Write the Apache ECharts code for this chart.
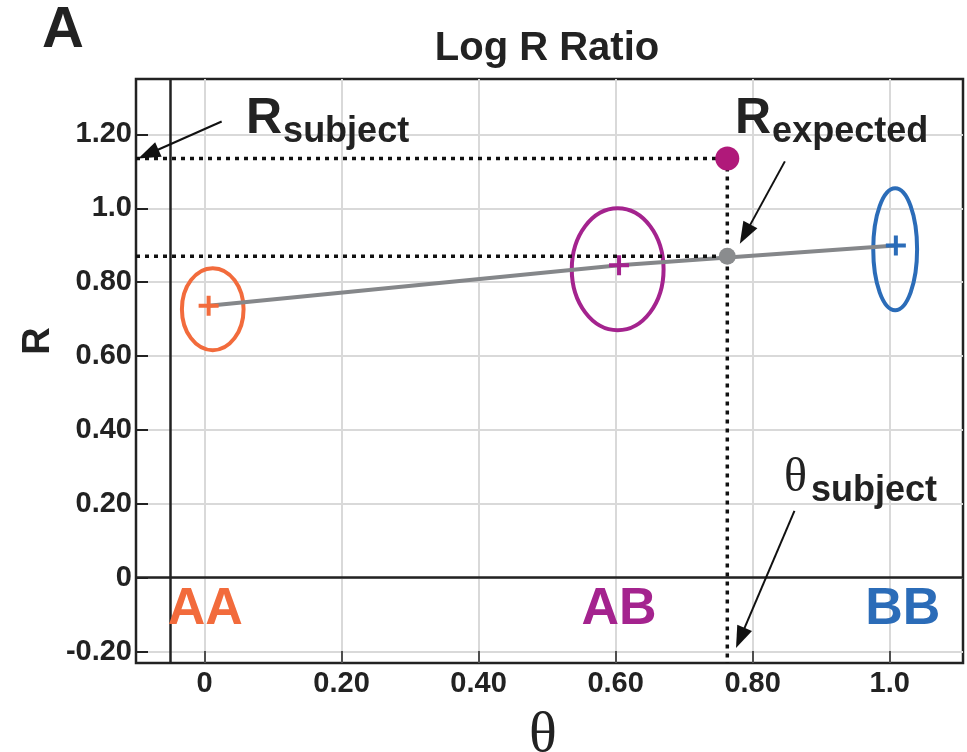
<!DOCTYPE html>
<html>
<head>
<meta charset="utf-8">
<script src="https://cdn.jsdelivr.net/npm/echarts@6/dist/echarts.min.js"></script>
<style>
    html, body {margin: 0; padding: 0; background: #fff;}
    #chart {width: 967px; height: 752px;}
</style>
</head>
<body>
<div id="chart"></div>
<script>
// axis ticks and their labels
var xTicks = [0, 0.2, 0.4, 0.6, 0.8, 1.0];
var xTickLabels = ['0', '0.20', '0.40', '0.60', '0.80', '1.0'];
var yTicks = [-0.2, 0, 0.2, 0.4, 0.6, 0.8, 1.0, 1.2];
var yTickLabels = ['-0.20', '0', '0.20', '0.40', '0.60', '0.80', '1.0', '1.20'];

// genotype clusters (ellipse centre + half sizes in data units)
var clusterNames = ['AA', 'AB', 'BB'];
var clusterTheta = [0.012, 0.603, 1.008];
var clusterR = [0.727, 0.835, 0.889];
var clusterHalfTheta = [0.045, 0.067, 0.032];
var clusterHalfR = [0.111, 0.165, 0.165];
// cluster means (+)
var meanTheta = [0.006, 0.605, 1.009];
var meanR = [0.736, 0.846, 0.899];
// genotype label positions
var labelTheta = [0.001, 0.605, 1.019];
var labelR = [-0.087, -0.087, -0.087];
var clusterColors = ['#f26b3c', '#a4238e', '#2b6cb8'];

// subject sample
var subjectTheta = 0.763;
var subjectR = 1.135;
var expectedR = 0.870;

// annotation arrows [theta, R] start -> end
var arrowFrom = [[0.025, 1.235], [0.847, 1.127], [0.861, 0.181]];
var arrowTo = [[-0.082, 1.147], [0.789, 0.930], [0.782, -0.163]];

var xMin = -0.1, xMax = 1.107, yMin = -0.231, yMax = 1.35;
var axisTheta = -0.046;

function pickLabel(ticks, labels, v) {
    for (var i = 0; i < ticks.length; i++) {
        if (Math.abs(ticks[i] - v) < 1e-6) return labels[i];
    }
    return '';
}

var dotStyle = {color: '#111', width: 3.5, type: [4, 5], cap: 'butt'};
var font = 'Liberation Sans, Arial, Helvetica, sans-serif';

var chart = echarts.init(document.getElementById('chart'));
chart.setOption({
    animation: false,
    backgroundColor: '#fff',
    grid: {left: 136, right: 4, top: 79, bottom: 89, show: true, borderColor: '#222', borderWidth: 2.5, containLabel: false},
    xAxis: {
        type: 'value', min: xMin, max: xMax,
        axisLine: {show: false, onZero: false},
        axisTick: {show: true, inside: true, length: 12, customValues: xTicks, lineStyle: {color: '#222', width: 1.5}},
        axisLabel: {customValues: xTicks, margin: 6, color: '#222', fontSize: 29, fontWeight: 'bold', fontFamily: font,
            formatter: function (v) { return pickLabel(xTicks, xTickLabels, v); }},
        splitLine: {show: true, lineStyle: {color: '#d9d9d9', width: 2}}
    },
    yAxis: {
        type: 'value', min: yMin, max: yMax,
        axisLine: {show: false, onZero: false},
        axisTick: {show: true, inside: true, length: 12, customValues: yTicks, lineStyle: {color: '#222', width: 2}},
        axisLabel: {customValues: yTicks, margin: 4, color: '#222', fontSize: 29, fontWeight: 'bold', fontFamily: font,
            formatter: function (v) { return pickLabel(yTicks, yTickLabels, v); }},
        splitLine: {show: true, lineStyle: {color: '#d9d9d9', width: 2}}
    },
    graphic: [
        {type: 'text', x: 42, y: 60, style: {text: 'A', font: 'bold 58px ' + font, fill: '#222', textVerticalAlign: 'bottom'}, z: 10},
        {type: 'text', x: 547, y: 49, style: {text: 'Log R Ratio', font: 'bold 40px ' + font, fill: '#222', textAlign: 'center', textVerticalAlign: 'middle'}, z: 10},
        {type: 'text', x: 39, y: 341, rotation: Math.PI / 2, style: {text: 'R', font: 'bold 38px ' + font, fill: '#222', textAlign: 'center', textVerticalAlign: 'middle'}, z: 10},
        {type: 'text', x: 543, y: 736, style: {text: 'θ', font: '58px Liberation Serif, Times New Roman, serif', fill: '#222', textAlign: 'center', textVerticalAlign: 'middle'}, z: 10},
        {type: 'text', x: 246, y: 150, z: 10, style: {
            text: '{a|R}{b|subject}', textVerticalAlign: 'bottom', fill: '#222',
            rich: {
                a: {fontSize: 50, lineHeight: 50, fontWeight: 'bold', fontFamily: font, padding: [0, 1, 11, 0]},
                b: {fontSize: 36, lineHeight: 36, fontWeight: 'bold', fontFamily: font, verticalAlign: 'bottom'}
            }}},
        {type: 'text', x: 735, y: 150, z: 10, style: {
            text: '{a|R}{b|expected}', textVerticalAlign: 'bottom', fill: '#222',
            rich: {
                a: {fontSize: 50, lineHeight: 50, fontWeight: 'bold', fontFamily: font, padding: [0, 1, 11, 0]},
                b: {fontSize: 36, lineHeight: 36, fontWeight: 'bold', fontFamily: font, verticalAlign: 'bottom'}
            }}},
        {type: 'text', x: 784, y: 509, z: 10, style: {
            text: '{a|θ}{b|subject}', textVerticalAlign: 'bottom', fill: '#222',
            rich: {
                a: {fontSize: 48, lineHeight: 48, fontFamily: 'Liberation Serif, Times New Roman, serif', padding: [0, 4, 14, 0]},
                b: {fontSize: 36, lineHeight: 36, fontWeight: 'bold', fontFamily: font, verticalAlign: 'bottom'}
            }}}
    ],
    series: [
        {
            // 0-line of R and theta axis line
            type: 'line', data: [], silent: true,
            markLine: {
                silent: true, symbol: 'none', label: {show: false},
                lineStyle: {color: '#222', width: 2.5, type: 'solid'},
                data: [{yAxis: 0}, {xAxis: axisTheta}]
            }
        },
        {
            type: 'custom', name: 'clusters',
            data: clusterTheta.map(function (t, i) { return [t, clusterR[i], clusterHalfTheta[i], clusterHalfR[i], i]; }),
            renderItem: function (params, api) {
                var c = api.coord([api.value(0), api.value(1)]);
                var s = api.size([api.value(2), api.value(3)]);
                return {
                    type: 'ellipse',
                    shape: {cx: c[0], cy: c[1], rx: s[0], ry: s[1]},
                    style: {fill: 'none', stroke: clusterColors[api.value(4)], lineWidth: 4}
                };
            },
            z: 2
        },
        {
            type: 'line', name: 'fit', symbol: 'none', z: 3,
            data: meanTheta.map(function (t, i) { return [t, meanR[i]]; }),
            lineStyle: {color: '#85878a', width: 4}
        },
        {
            type: 'scatter', name: 'means', z: 4,
            symbol: 'path://M4,0h2v4h4v2h-4v4h-2v-4h-4v-2h4z', symbolSize: 20,
            data: meanTheta.map(function (t, i) { return {value: [t, meanR[i]], itemStyle: {color: clusterColors[i], opacity: 1}}; })
        },
        {
            type: 'line', symbol: 'none', z: 5, lineStyle: dotStyle,
            data: [[xMin, subjectR], [subjectTheta, subjectR]]
        },
        {
            type: 'line', symbol: 'none', z: 5, lineStyle: dotStyle,
            data: [[xMin, expectedR], [subjectTheta, expectedR]]
        },
        {
            type: 'line', symbol: 'none', z: 5, lineStyle: dotStyle,
            data: [[subjectTheta, subjectR], [subjectTheta, yMin]]
        },
        {
            type: 'scatter', z: 6,
            data: [
                {value: [subjectTheta, subjectR], symbolSize: 24, itemStyle: {color: '#b0197a', opacity: 1}},
                {value: [subjectTheta, expectedR], symbolSize: 17, itemStyle: {color: '#8a8c8e', opacity: 1}}
            ]
        },
        {
            type: 'scatter', z: 6, symbolSize: 0,
            itemStyle: {opacity: 1},
            data: labelTheta.map(function (t, i) {
                return {value: [t, labelR[i]], name: clusterNames[i],
                    label: {show: true, position: 'inside', formatter: '{b}', color: clusterColors[i], opacity: 1,
                        fontSize: 52, fontWeight: 'bold', fontFamily: font}};
            })
        },
        {
            type: 'line', data: [], silent: true,
            markLine: {
                silent: true, label: {show: false},
                symbol: ['none', 'path://M0,0L8,22L-8,22Z'], symbolSize: 22, symbolKeepAspect: true,
                lineStyle: {color: '#111', width: 2, type: 'solid'},
                itemStyle: {color: '#111'},
                data: arrowFrom.map(function (p, i) { return [{coord: p}, {coord: arrowTo[i]}]; })
            }
        }
    ]
});
</script>
</body>
</html>
